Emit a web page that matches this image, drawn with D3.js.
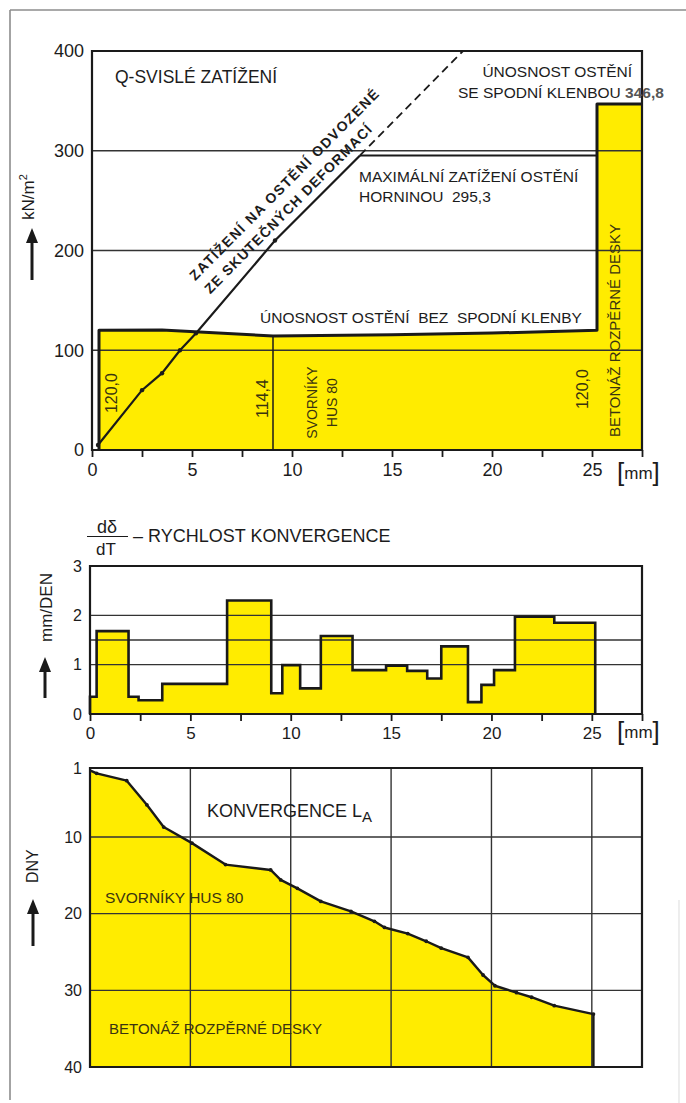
<!DOCTYPE html>
<html>
<head>
<meta charset="utf-8">
<script src="https://cdn.jsdelivr.net/npm/d3@7"></script>
<style>
  body { margin: 0; background: #fff; }
  svg { display: block; }
  text { font-family: "Liberation Sans", Arial, Helvetica, sans-serif; fill: #1c1c1c; white-space: pre; }
</style>
</head>
<body>
<svg id="chart" width="686" height="1103"></svg>
<script>
// ---------- shared axis values ----------
const mmTickLabels = [0, 5, 10, 15, 20, 25];
const mmMinorTicks = [0, 2.5, 5, 7.5, 10, 12.5, 15, 17.5, 20, 22.5, 25, 27.5];
const mmMax = 27.5;

// ---------- panel 1: vertical load Q [kN/m2] vs. convergence [mm] ----------
const loadTicks = [0, 100, 200, 300, 400];
const loadGrid = [100, 200, 300];
const capacityNoInvertMm = [0.35, 3.5, 9.05, 15, 20, 25.25];
const capacityNoInvert = [120.0, 120.3, 114.4, 115.5, 117.2, 120.0];
const invertBarMm = [25.25, 27.5];
const capacityWithInvert = 346.8;
const maxRockLoad = 295.3;
const maxRockLoadMm = [13.4, 25.25];
const boltsMm = 9.05;
const deformLoadMm = [0.3, 2.5, 3.5, 4.4, 5.2, 9.15, 13.4];
const deformLoad = [5, 60, 77, 100, 117, 210, 295.3];
const deformLoadExtMm = [13.4, 18.55];
const deformLoadExt = [295.3, 400];

// ---------- panel 2: convergence rate [mm/day] ----------
const rateTicks = [0, 1, 2, 3];
const rateGrid = [1, 1.5, 2];
const rateStartMm = [0, 0.33, 1.92, 2.42, 3.6, 6.83, 9.03, 9.58, 10.47, 11.5, 13.08,
                     14.75, 15.8, 16.8, 17.5, 18.83, 19.5, 20.13, 21.17, 23.13];
const rateValue   = [0.35, 1.68, 0.35, 0.28, 0.61, 2.30, 0.42, 0.99, 0.52, 1.58, 0.89,
                     0.98, 0.875, 0.72, 1.37, 0.24, 0.59, 0.89, 1.97, 1.85];
const rateEndMm = 25.17;

// ---------- panel 3: convergence L_A vs. days ----------
const dayTicks = [1, 10, 20, 30, 40];
const dayGrid = [10, 20, 30];
const convMm  = [0, 0.33, 1.83, 2.83, 3.67, 5.08, 6.75, 9.0, 9.5, 10.33, 11.5, 13.0, 14.17,
                 14.67, 15.83, 16.75, 17.5, 18.83, 19.58, 20.17, 21.25, 22.0, 23.13, 25.08];
const convDay = [1.3, 1.7, 2.65, 5.8, 8.7, 10.8, 13.6, 14.3, 15.6, 16.7, 18.4, 19.7, 21.0,
                 21.8, 22.6, 23.6, 24.5, 25.7, 28.0, 29.4, 30.3, 30.9, 32.0, 33.1];

// ---------- style ----------
const YELLOW = "#ffec00";
const INK = "#1a1a1a";
const GRID = "#333";
const OLIVE = "#3a3410";

const svg = d3.select("#chart");

// page border
svg.append("line").attr("x1", 10).attr("y1", 10).attr("x2", 10).attr("y2", 1100)
  .attr("stroke", "#8c8c8c").attr("stroke-width", 1.6);
svg.append("line").attr("x1", 10).attr("y1", 10).attr("x2", 686).attr("y2", 10)
  .attr("stroke", "#8c8c8c").attr("stroke-width", 1.6);
svg.append("line").attr("x1", 679).attr("y1", 900).attr("x2", 679).attr("y2", 1103)
  .attr("stroke", "#e2e2e2").attr("stroke-width", 1.2);

function upArrow(x, yTip, yTail) {
  svg.append("line").attr("x1", x).attr("x2", x).attr("y1", yTip + 12).attr("y2", yTail)
    .attr("stroke", INK).attr("stroke-width", 3);
  svg.append("path").attr("d", `M${x},${yTip} L${x - 6},${yTip + 15} L${x + 6},${yTip + 15} Z`)
    .attr("fill", INK);
}

function vText(x, y, str, size, anchor, fill, weight) {
  return svg.append("text")
    .attr("transform", `translate(${x},${y}) rotate(-90)`)
    .attr("text-anchor", anchor || "start")
    .attr("font-size", size)
    .attr("font-weight", weight || "normal")
    .style("fill", fill || "#1c1c1c")
    .text(str);
}

function mmLabel(x, yBase) {
  const t = svg.append("text").attr("x", x).attr("y", yBase).attr("font-size", 17);
  t.append("tspan").attr("font-size", 26).attr("font-weight", 300).text("[");
  t.append("tspan").attr("dy", -2).text("mm");
  t.append("tspan").attr("dy", 2).attr("font-size", 26).attr("font-weight", 300).text("]");
}

function bottomAxis(g, x, y0, size) {
  const ax = d3.axisBottom(x).tickValues(mmMinorTicks).tickSize(7).tickPadding(6)
    .tickFormat(d => mmTickLabels.includes(d) ? String(d) : "");
  g.attr("transform", `translate(0,${y0})`).call(ax);
  g.select(".domain").remove();
  g.selectAll(".tick line").attr("stroke", INK).attr("stroke-width", 1.8);
  g.selectAll(".tick text").attr("font-size", size).style("fill", "#1c1c1c")
    .attr("font-family", "Liberation Sans, Arial, sans-serif");
}

function leftLabels(g, y, x0, values, size) {
  const ax = d3.axisLeft(y).tickValues(values).tickSize(0).tickPadding(8)
    .tickFormat(d => String(d));
  g.attr("transform", `translate(${x0},0)`).call(ax);
  g.select(".domain").remove();
  g.selectAll(".tick text").attr("font-size", size).style("fill", "#1c1c1c")
    .attr("font-family", "Liberation Sans, Arial, sans-serif");
}

function frame(x, y, yTop, yBottom) {
  const [a, b] = x.range();
  svg.append("path")
    .attr("d", `M${a},${y(yBottom)} L${a},${y(yTop)} L${b},${y(yTop)} L${b},${y(yBottom)} Z`)
    .attr("fill", "none").attr("stroke", INK).attr("stroke-width", 2.2);
}

// ======================= PANEL 1 =======================
{
  const x = d3.scaleLinear([0, mmMax], [92, 642]);
  const y = d3.scaleLinear([0, 400], [450, 51]);

  const capPts = capacityNoInvertMm.map((m, i) => [m, capacityNoInvert[i]]);

  // filled capacity regions
  svg.append("path")
    .datum(capPts)
    .attr("d", d3.area().x(d => x(d[0])).y0(y(0)).y1(d => y(d[1])))
    .attr("fill", YELLOW);
  svg.append("rect")
    .attr("x", x(invertBarMm[0])).attr("width", x(invertBarMm[1]) - x(invertBarMm[0]))
    .attr("y", y(capacityWithInvert)).attr("height", y(0) - y(capacityWithInvert))
    .attr("fill", YELLOW);

  // grid
  svg.append("g").selectAll("line").data(loadGrid).join("line")
    .attr("x1", x(0)).attr("x2", x(mmMax)).attr("y1", d => y(d)).attr("y2", d => y(d))
    .attr("stroke", GRID).attr("stroke-width", 1.3);

  // rock-bolt installation marker
  svg.append("line")
    .attr("x1", x(boltsMm)).attr("x2", x(boltsMm))
    .attr("y1", y(0)).attr("y2", y(capacityNoInvert[2]))
    .attr("stroke", INK).attr("stroke-width", 1.5);

  frame(x, y, 400, 0);
  bottomAxis(svg.append("g"), x, y(0), 18);
  leftLabels(svg.append("g"), y, x(0), loadTicks, 18);

  // capacity outline: lining without invert, then with invert
  const outline = [[capPts[0][0], 0], ...capPts,
                   [invertBarMm[0], capacityWithInvert], [invertBarMm[1], capacityWithInvert]];
  svg.append("path")
    .datum(outline)
    .attr("d", d3.line().x(d => x(d[0])).y(d => y(d[1])))
    .attr("fill", "none").attr("stroke", INK).attr("stroke-width", 3).attr("stroke-linejoin", "round");

  // max rock load level
  svg.append("line")
    .attr("x1", x(maxRockLoadMm[0])).attr("x2", x(maxRockLoadMm[1]))
    .attr("y1", y(maxRockLoad)).attr("y2", y(maxRockLoad))
    .attr("stroke", INK).attr("stroke-width", 2);

  // load derived from measured deformation
  const dPts = deformLoadMm.map((m, i) => [m, deformLoad[i]]);
  const dExt = deformLoadExtMm.map((m, i) => [m, deformLoadExt[i]]);
  const ln = d3.line().x(d => x(d[0])).y(d => y(d[1]));
  svg.append("path").datum(dPts).attr("d", ln)
    .attr("fill", "none").attr("stroke", INK).attr("stroke-width", 2.2);
  svg.append("path").datum(dExt).attr("d", ln)
    .attr("fill", "none").attr("stroke", INK).attr("stroke-width", 1.8)
    .attr("stroke-dasharray", "8,5");
  svg.append("g").selectAll("circle").data(dPts.slice(0, 6)).join("circle")
    .attr("cx", d => x(d[0])).attr("cy", d => y(d[1])).attr("r", 2.2).attr("fill", INK);

  // texts
  svg.append("text").attr("x", 115).attr("y", 83).attr("font-size", 17.5).text("Q-SVISLÉ ZATÍŽENÍ");
  svg.append("text").attr("x", 632).attr("y", 77).attr("font-size", 15.5)
    .attr("text-anchor", "end").text("ÚNOSNOST OSTĚNÍ");
  const t2 = svg.append("text").attr("x", 458).attr("y", 98).attr("font-size", 15.5);
  t2.append("tspan").text("SE SPODNÍ KLENBOU ");
  t2.append("tspan").attr("font-weight", "bold").style("fill", "#555").text(String(capacityWithInvert).replace(".", ","));
  svg.append("text").attr("x", 359).attr("y", 182).attr("font-size", 15.5).text("MAXIMÁLNÍ ZATÍŽENÍ OSTĚNÍ");
  svg.append("text").attr("x", 359).attr("y", 202).attr("font-size", 15.5)
    .text("HORNINOU  " + String(maxRockLoad).replace(".", ","));
  svg.append("text").attr("x", 260).attr("y", 323).attr("font-size", 15.5)
    .text("ÚNOSNOST OSTĚNÍ  BEZ  SPODNÍ KLENBY");

  // rotated texts inside the filled area
  vText(x(1.25), y(37), capacityNoInvert[0].toFixed(1).replace(".", ","), 16, "start", OLIVE);
  vText(x(8.8), y(32), capacityNoInvert[2].toFixed(1).replace(".", ","), 16, "start", OLIVE);
  vText(x(11.25), y(47.5), "SVORNÍKY", 14, "middle", OLIVE);
  vText(x(12.25), y(47.5), "HUS 80", 14, "middle", OLIVE);
  vText(x(24.8), y(41), capacityNoInvert[5].toFixed(1).replace(".", ","), 16, "start", OLIVE);
  vText(x(26.4), y(13), "BETONÁŽ ROZPĚRNÉ DESKY", 15, "start", OLIVE);

  // labels along the deformation-derived load line
  const p0 = [x(deformLoadMm[5]), y(deformLoad[5])];
  const p1 = [x(deformLoadExtMm[1]), y(deformLoadExt[1])];
  const ang = Math.atan2(p1[1] - p0[1], p1[0] - p0[0]) * 180 / Math.PI;
  const gd = svg.append("g").attr("transform", `translate(${p0[0]},${p0[1]}) rotate(${ang})`);
  gd.append("text").attr("x", -85).attr("y", -28).attr("font-size", 14).attr("font-weight", 600)
    .attr("textLength", 262).attr("lengthAdjust", "spacing")
    .text("ZATÍŽENÍ NA OSTĚNÍ ODVOZENÉ");
  gd.append("text").attr("x", -84).attr("y", -8).attr("font-size", 14).attr("font-weight", 600)
    .attr("textLength", 231).attr("lengthAdjust", "spacing")
    .text("ZE SKUTEČNÝCH DEFORMACÍ");

  // y-axis caption
  const yl = vText(34, 220, "kN/m", 17, "start");
  yl.append("tspan").attr("dy", -7).attr("font-size", 11).text("2");
  upArrow(32, 228, 280);
  mmLabel(617, 481);
}

// ======================= PANEL 2 =======================
{
  const x = d3.scaleLinear([0, mmMax], [90, 642]);
  const y = d3.scaleLinear([0, 3], [714, 566]);

  const pts = [[0, 0], ...rateStartMm.map((m, i) => [m, rateValue[i]]),
               [rateEndMm, rateValue[rateValue.length - 1]], [rateEndMm, 0]];

  svg.append("path").datum(pts)
    .attr("d", d3.area().curve(d3.curveStepAfter).x(d => x(d[0])).y0(y(0)).y1(d => y(d[1])))
    .attr("fill", YELLOW);

  svg.append("g").selectAll("line").data(rateGrid).join("line")
    .attr("x1", x(0)).attr("x2", x(mmMax)).attr("y1", d => y(d)).attr("y2", d => y(d))
    .attr("stroke", GRID).attr("stroke-width", 1.3);

  svg.append("path").datum(pts)
    .attr("d", d3.line().curve(d3.curveStepAfter).x(d => x(d[0])).y(d => y(d[1])))
    .attr("fill", "none").attr("stroke", INK).attr("stroke-width", 2.6);

  frame(x, y, 3, 0);
  bottomAxis(svg.append("g"), x, y(0), 17);
  leftLabels(svg.append("g"), y, x(0), rateTicks, 16);

  // title with the derivative fraction
  svg.append("text").attr("x", 107).attr("y", 533).attr("font-size", 18).attr("text-anchor", "middle").text("dδ");
  svg.append("line").attr("x1", 87).attr("x2", 128).attr("y1", 536.5).attr("y2", 536.5)
    .attr("stroke", INK).attr("stroke-width", 1.2);
  svg.append("text").attr("x", 106).attr("y", 555).attr("font-size", 17).attr("text-anchor", "middle").text("dT");
  svg.append("text").attr("x", 133).attr("y", 542).attr("font-size", 18).text("– RYCHLOST KONVERGENCE");

  vText(52, 642, "mm/DEN", 17, "start");
  upArrow(45, 657, 698);
  mmLabel(617, 740);
}

// ======================= PANEL 3 =======================
{
  const x = d3.scaleLinear([0, mmMax], [90, 642]);
  const y = d3.scaleLinear([1, 40], [768, 1067]);

  const pts = convMm.map((m, i) => [m, convDay[i]]);

  svg.append("path").datum(pts)
    .attr("d", d3.area().x(d => x(d[0])).y0(y(40)).y1(d => y(d[1])))
    .attr("fill", YELLOW);

  const gg = svg.append("g");
  gg.selectAll(".h").data(dayGrid).join("line")
    .attr("x1", x(0)).attr("x2", x(mmMax)).attr("y1", d => y(d)).attr("y2", d => y(d))
    .attr("stroke", GRID).attr("stroke-width", 1.4);
  gg.selectAll(".v").data(mmTickLabels.slice(1)).join("line")
    .attr("x1", d => x(d)).attr("x2", d => x(d)).attr("y1", y(1)).attr("y2", y(40))
    .attr("stroke", GRID).attr("stroke-width", 1.4);

  frame(x, y, 1, 40);
  leftLabels(svg.append("g"), y, x(0), dayTicks, 16);

  const outline = [...pts, [convMm[convMm.length - 1], 40]];
  svg.append("path").datum(outline)
    .attr("d", d3.line().x(d => x(d[0])).y(d => y(d[1])))
    .attr("fill", "none").attr("stroke", INK).attr("stroke-width", 2.4).attr("stroke-linejoin", "round");
  svg.append("g").selectAll("circle").data(pts.slice(1)).join("circle")
    .attr("cx", d => x(d[0])).attr("cy", d => y(d[1])).attr("r", 1.9).attr("fill", INK);

  const kt = svg.append("text").attr("x", 207).attr("y", 817).attr("font-size", 18).text("KONVERGENCE L");
  kt.append("tspan").attr("dy", 5).attr("font-size", 15).text("A");
  svg.append("text").attr("x", 105).attr("y", 903).attr("font-size", 15.5).style("fill", OLIVE).text("SVORNÍKY HUS 80");
  svg.append("text").attr("x", 109).attr("y", 1034).attr("font-size", 15).style("fill", OLIVE).text("BETONÁŽ ROZPĚRNÉ DESKY");

  vText(38, 883, "DNY", 16, "start");
  upArrow(33, 899, 946);
}
</script>
</body>
</html>
